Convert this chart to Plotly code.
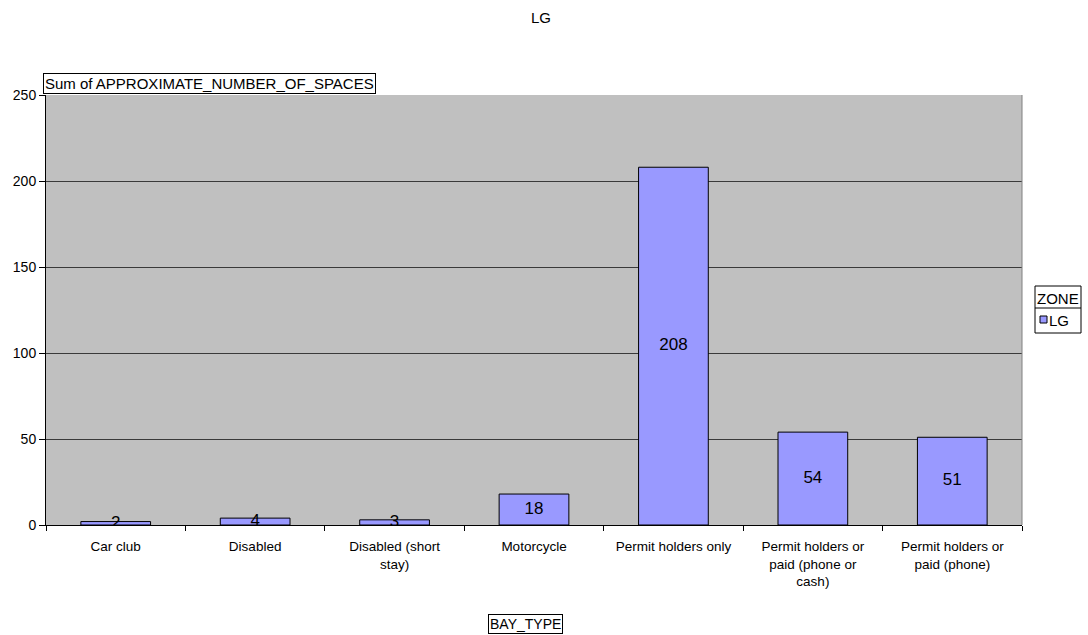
import plotly.graph_objects as go

# Bay types and the summed number of spaces for zone LG
bay_types = [
    "Car club",
    "Disabled",
    "Disabled (short<br>stay)",
    "Motorcycle",
    "Permit holders only",
    "Permit holders or<br>paid (phone or<br>cash)",
    "Permit holders or<br>paid (phone)",
]
spaces = [2, 4, 3, 18, 208, 54, 51]
y_ticks = [0, 50, 100, 150, 200, 250]

W, H = 1088, 635
L, R, T, B = 46, 66, 95, 110
FONT = "Liberation Sans, Arial, sans-serif"
BAR_COLOR = "#9999FF"
FS = 13.5
FS_BOX = 15


# Convert figure pixel positions to paper (plot-area) fractions
def px_x(x):
    return (x - L) / (W - L - R)


def px_y(y):
    return (H - B - y) / (H - T - B)


fig = go.Figure()
fig.add_trace(go.Bar(
    x=bay_types,
    y=spaces,
    width=0.5,
    marker=dict(color=BAR_COLOR, line=dict(color="#000000", width=1)),
    showlegend=False,
    hoverinfo="x+y",
))
# Value labels centred halfway up each bar
fig.add_trace(go.Scatter(
    x=bay_types,
    y=[v / 2 for v in spaces],
    text=[str(v) for v in spaces],
    mode="text",
    textfont=dict(family=FONT, size=17, color="#000000"),
    showlegend=False,
    hoverinfo="skip",
))

fig.update_layout(
    width=W,
    height=H,
    margin=dict(l=L, r=R, t=T, b=B, autoexpand=False),
    paper_bgcolor="#FFFFFF",
    plot_bgcolor="#C0C0C0",
    font=dict(family=FONT, size=FS, color="#000000"),
    title=dict(text="LG", x=541 / W, xanchor="center", y=1 - 18 / H, yanchor="middle",
               font=dict(family=FONT, size=FS_BOX, color="#000000")),
    bargap=0.5,
)

fig.update_xaxes(
    type="category",
    showgrid=False,
    showline=True,
    linecolor="#000000",
    linewidth=1,
    ticks="outside",
    tickson="boundaries",
    ticklen=5,
    tickcolor="#000000",
    ticklabelstandoff=9,
    tickfont=dict(family=FONT, size=FS, color="#000000"),
)
fig.update_yaxes(
    range=[0, 250],
    tickvals=y_ticks,
    showgrid=True,
    gridcolor="#3A3A3A",
    gridwidth=1,
    zeroline=False,
    showline=True,
    linecolor="#000000",
    linewidth=1,
    ticks="outside",
    ticklen=6,
    tickcolor="#000000",
    tickfont=dict(family=FONT, size=14, color="#000000"),
)

# Right edge of the plot area
fig.add_shape(type="line", xref="paper", yref="paper", x0=1, x1=1, y0=0, y1=1,
              line=dict(color="#808080", width=1))

# Boxed axis titles
fig.add_annotation(
    text="Sum of APPROXIMATE_NUMBER_OF_SPACES",
    xref="paper", yref="paper",
    x=px_x(43), xanchor="left",
    y=px_y(83), yanchor="middle",
    showarrow=False,
    font=dict(family=FONT, size=FS_BOX, color="#000000"),
    bordercolor="#000000", borderwidth=1, borderpad=1,
    bgcolor="#FFFFFF",
)
fig.add_annotation(
    text="BAY_TYPE",
    xref="paper", yref="paper",
    x=px_x(525), xanchor="center",
    y=px_y(624), yanchor="middle",
    showarrow=False,
    font=dict(family=FONT, size=14, color="#000000"),
    bordercolor="#000000", borderwidth=1, borderpad=1,
    bgcolor="#FFFFFF",
)

# Legend box: ZONE header above the LG entry
lx0, lx1, ly0, lmid, ly1 = 1035, 1081, 286, 308, 333
fig.add_shape(type="rect", xref="paper", yref="paper",
              x0=px_x(lx0), x1=px_x(lx1), y0=px_y(ly1), y1=px_y(ly0),
              line=dict(color="#000000", width=1), fillcolor="#FFFFFF")
fig.add_shape(type="line", xref="paper", yref="paper",
              x0=px_x(lx0), x1=px_x(lx1), y0=px_y(lmid), y1=px_y(lmid),
              line=dict(color="#000000", width=1))
fig.add_shape(type="rect", xref="paper", yref="paper",
              x0=px_x(1040), x1=px_x(1047), y0=px_y(323), y1=px_y(316),
              line=dict(color="#000000", width=1), fillcolor=BAR_COLOR)
fig.add_annotation(text="ZONE", xref="paper", yref="paper",
                   x=px_x(1058), xanchor="center", y=px_y(298), yanchor="middle",
                   showarrow=False, font=dict(family=FONT, size=FS_BOX, color="#000000"))
fig.add_annotation(text="LG", xref="paper", yref="paper",
                   x=px_x(1047), xanchor="left", y=px_y(320), yanchor="middle",
                   showarrow=False, font=dict(family=FONT, size=FS_BOX, color="#000000"))

fig.write_html("out.html")
